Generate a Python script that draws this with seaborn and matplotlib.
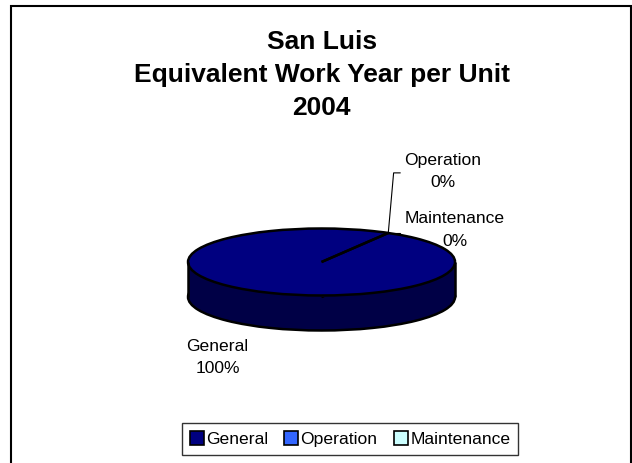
import numpy as np
import matplotlib
matplotlib.use("Agg")
import matplotlib.pyplot as plt
from matplotlib.patches import Rectangle
import seaborn as sns

# Data
categories = ["General", "Operation", "Maintenance"]
values = [100, 0, 0]
top_colors = ["#000080", "#3366FF", "#CCFFFF"]
side_color = "#000046"
title_lines = ["San Luis", "Equivalent Work Year per Unit", "2004"]

sns.set_style("white")
plt.rcParams["font.family"] = ["Liberation Sans", "DejaVu Sans"]
plt.rcParams["text.color"] = "black"

palette = sns.color_palette(top_colors)
pcts = [v / sum(values) * 100 for v in values]

fig = plt.figure(figsize=(6.32, 4.63), dpi=100)
fig.patch.set_facecolor("white")

# outer chart border
fig.add_artist(Rectangle((0.0174, -0.1), 0.981, 1.087, transform=fig.transFigure,
                         facecolor="none", edgecolor="black", lw=1.5))

fig.text(0.509, 0.838, "\n".join(title_lines), ha="center", va="center",
         fontsize=19, fontweight="bold", linespacing=1.45)

ax = fig.add_axes([0.1919, 0.2171, 0.6337, 0.4341])
r = 1.0
depth = 1.045
start = 60  # first slice at 30 deg clockwise from 12 o'clock
edge = dict(edgecolor="black", linewidth=1.8)

# 3D side: lower pie, filler and outline
ax.pie(values, radius=r, center=(0, -depth), colors=[side_color] * len(values),
       startangle=start, counterclock=False, wedgeprops=edge)
ax.add_patch(Rectangle((-r, -depth), 2 * r, depth, facecolor=side_color, edgecolor="none"))
ax.vlines([-r, r], -depth, 0, color="black", linewidth=1.8)

# top face
ax.pie(values, radius=r, center=(0, 0), colors=palette,
       startangle=start, counterclock=False, wedgeprops=edge)

ax.set_aspect("auto")
ax.set_xlim(-1.5, 1.5)
ax.set_ylim(-3, 3)
ax.axis("off")

# labels with leader lines
bx, by = r * np.cos(np.radians(start)), r * np.sin(np.radians(start))
ax.plot([bx, bx + 0.04, bx + 0.09], [by, 2.66, 2.66], color="black", lw=0.8, clip_on=False)
ax.plot([bx, bx + 0.09], [by, by], color="black", lw=0.8, clip_on=False)

label_pos = {"General": (-0.78, -2.85), "Operation": (0.91, 2.70), "Maintenance": (1.0, 0.955)}
for cat, p in zip(categories, pcts):
    x, y = label_pos[cat]
    ax.text(x, y, f"{cat}\n{p:.0f}%", ha="center", va="center", fontsize=12.6,
            linespacing=1.65, clip_on=False)

handles = [Rectangle((0, 0), 1, 1, facecolor=c, edgecolor="black", lw=1.2) for c in palette]
leg = fig.legend(handles, categories, loc="center", bbox_to_anchor=(0.5538, 0.0518),
                 ncol=3, fontsize=12.6, frameon=True, fancybox=False, handlelength=0.8,
                 handleheight=0.8, handletextpad=0.12, columnspacing=0.95,
                 borderpad=0.45, borderaxespad=0)
leg.get_frame().set_edgecolor("black")
leg.get_frame().set_linewidth(1.0)

fig.savefig("out.png", dpi=100)
